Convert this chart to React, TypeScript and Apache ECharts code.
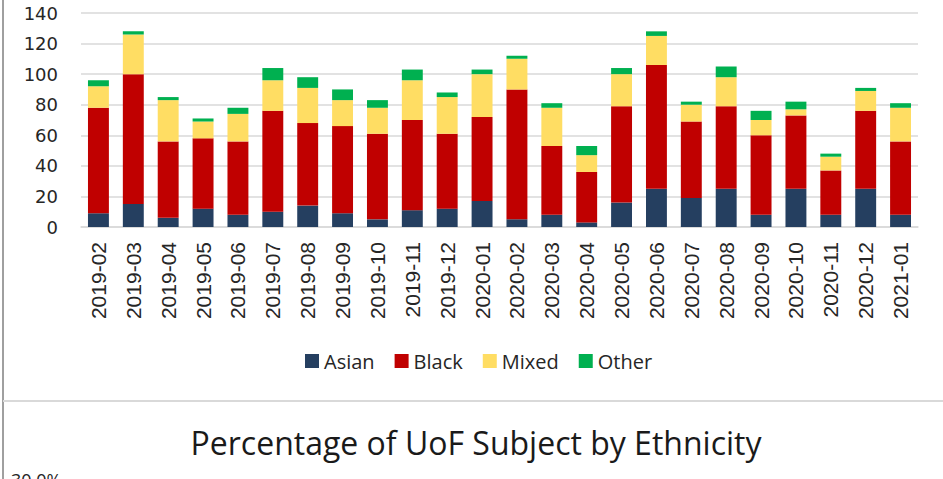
import React, { useEffect, useRef } from "react";
import * as echarts from "echarts";

const categories = [
  "2019-02", "2019-03", "2019-04", "2019-05", "2019-06", "2019-07", "2019-08", "2019-09",
  "2019-10", "2019-11", "2019-12", "2020-01", "2020-02", "2020-03", "2020-04", "2020-05",
  "2020-06", "2020-07", "2020-08", "2020-09", "2020-10", "2020-11", "2020-12", "2021-01",
];
const asian = [9, 15, 6, 12, 8, 10, 14, 9, 5, 11, 12, 17, 5, 8, 3, 16, 25, 19, 25, 8, 25, 8, 25, 8];
const black = [69, 85, 50, 46, 48, 66, 54, 57, 56, 59, 49, 55, 85, 45, 33, 63, 81, 50, 54, 52, 48, 29, 51, 48];
const mixed = [14, 26, 27, 11, 18, 20, 23, 17, 17, 26, 24, 28, 20, 25, 11, 21, 19, 11, 19, 10, 4, 9, 13, 22];
const other = [4, 2, 2, 2, 4, 8, 7, 7, 5, 7, 3, 3, 2, 3, 6, 4, 3, 2, 7, 6, 5, 2, 2, 3];
const seriesNames = ["Asian", "Black", "Mixed", "Other"];
const colors = ["#253F60", "#C00000", "#FFDD63", "#00B050"];
const titleText = "Percentage of UoF Subject by Ethnicity";
const nextAxisLabel = "30.0%";

export default function App() {
  const ref = useRef<HTMLDivElement>(null);
  useEffect(() => {
    if (!ref.current) return;
    const chart = echarts.init(ref.current, null, { renderer: "svg" });
    const values = [asian, black, mixed, other];
    chart.setOption({
      animation: false,
      backgroundColor: "#ffffff",
      color: colors,
      grid: { left: 81, right: 25, top: 13, bottom: 252, containLabel: false },
      legend: {
        data: seriesNames,
        left: 300,
        top: 346,
        itemWidth: 14,
        itemHeight: 14,
        itemGap: 20,
        icon: "rect",
        textStyle: { fontFamily: "Open Sans", fontSize: 20, color: "#262626" },
      },
      xAxis: {
        type: "category",
        data: categories,
        axisTick: { show: false },
        axisLine: { show: true, lineStyle: { color: "#D9D9D9", width: 1.5 } },
        axisLabel: {
          rotate: 90,
          margin: 15,
          interval: 0,
          fontFamily: "Liberation Sans",
          fontSize: 21,
          color: "#262626",
        },
      },
      yAxis: {
        type: "value",
        min: 0,
        max: 140,
        interval: 20,
        axisLine: { show: false },
        axisTick: { show: false },
        splitLine: { lineStyle: { color: "#D9D9D9", width: 1.5 } },
        axisLabel: {
          margin: 23,
          fontFamily: "DejaVu Sans",
          fontSize: 18,
          color: "#262626",
        },
      },
      series: seriesNames.map((name, i) => ({
        name,
        type: "bar",
        stack: "total",
        barCategoryGap: "40%",
        data: values[i],
        itemStyle: { color: colors[i] },
      })),
      graphic: [
        {
          type: "line",
          shape: { x1: 3, y1: 0, x2: 3, y2: 479 },
          style: { stroke: "#404040", lineWidth: 1 },
        },
        {
          type: "line",
          shape: { x1: 3, y1: 401, x2: 943, y2: 401 },
          style: { stroke: "#D9D9D9", lineWidth: 2 },
        },
        {
          type: "text",
          x: 476,
          y: 426,
          style: {
            text: titleText,
            fontFamily: "Open Sans",
            fontSize: 32,
            fill: "#1a1a1a",
            align: "center",
            verticalAlign: "top",
          },
        },
        {
          type: "text",
          x: 11,
          y: 471,
          style: {
            text: nextAxisLabel,
            fontFamily: "Open Sans",
            fontSize: 18,
            fill: "#262626",
            align: "left",
            verticalAlign: "top",
          },
        },
      ],
    });
    return () => chart.dispose();
  }, []);
  return (
    <div
      ref={ref}
      style={{ position: "fixed", left: 0, top: 0, width: 943, height: 479 }}
    />
  );
}
